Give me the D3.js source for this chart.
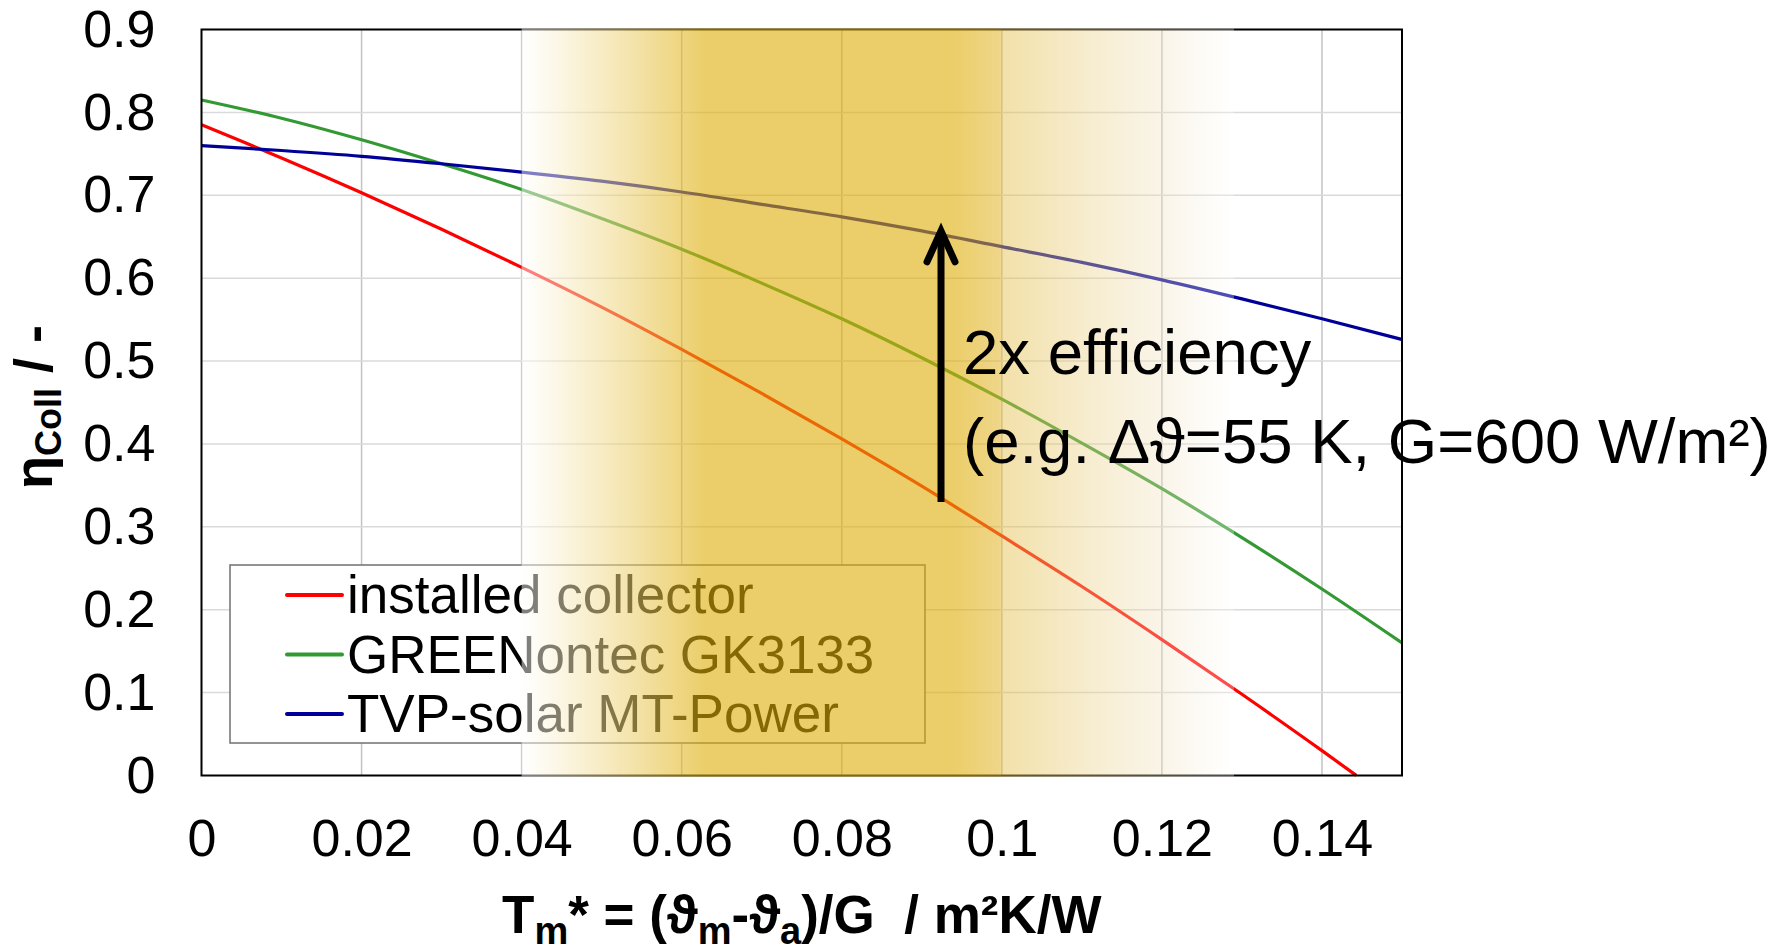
<!DOCTYPE html>
<html>
<head>
<meta charset="utf-8">
<script src="https://cdn.jsdelivr.net/npm/d3@7"></script>
<style>
  body { margin: 0; background: #fff; }
  svg { display: block; font-family: "Liberation Sans", Arial, sans-serif; }
</style>
</head>
<body>
<script>
// collector efficiency curves
const tmStar = [0, 0.01, 0.02, 0.03, 0.04, 0.05, 0.06, 0.07, 0.08, 0.09, 0.10, 0.11, 0.12, 0.13, 0.14, 0.15];
const installedTm = [0, 0.01, 0.02, 0.03, 0.04, 0.05, 0.06, 0.07, 0.08, 0.09, 0.10, 0.11, 0.12, 0.13, 0.14, 0.1443];
const installedEta = [0.785, 0.745, 0.703, 0.659, 0.613, 0.565, 0.514, 0.461, 0.406, 0.349, 0.289, 0.228, 0.164, 0.098, 0.030, 0];
const greenEta = [0.815, 0.793, 0.767, 0.738, 0.707, 0.672, 0.635, 0.594, 0.551, 0.504, 0.454, 0.401, 0.346, 0.287, 0.225, 0.160];
const tvpEta = [0.760, 0.754, 0.747, 0.738, 0.728, 0.717, 0.704, 0.689, 0.674, 0.657, 0.638, 0.619, 0.598, 0.575, 0.551, 0.526];

const seriesNames = ["installed collector", "GREENontec GK3133", "TVP-solar MT-Power"];

const xTicks = [0, 0.02, 0.04, 0.06, 0.08, 0.1, 0.12, 0.14];
const xTickLabels = ["0", "0.02", "0.04", "0.06", "0.08", "0.1", "0.12", "0.14"];
const yTicks = [0, 0.1, 0.2, 0.3, 0.4, 0.5, 0.6, 0.7, 0.8, 0.9];
const yTickLabels = ["0", "0.1", "0.2", "0.3", "0.4", "0.5", "0.6", "0.7", "0.8", "0.9"];

// highlighted operating range and the arrow annotation
const bandRange = [0.04, 0.129];
const arrowTm = 0.0924;
const arrowEta = [0.33, 0.657];
const noteLines = ["2x efficiency", "(e.g. Δϑ=55 K, G=600 W/m²)"];

const width = 1780, height = 946;
const plot = { left: 201.5, right: 1402, top: 29.5, bottom: 775.5 };

const x = d3.scaleLinear().domain([0, 0.15]).range([plot.left, plot.right]);
const y = d3.scaleLinear().domain([0, 0.9]).range([plot.bottom, plot.top]);

const svg = d3.select("body").append("svg")
  .attr("width", width)
  .attr("height", height);

// grid
svg.append("g")
  .selectAll("line")
  .data(xTicks.slice(1))
  .join("line")
  .attr("x1", d => x(d)).attr("x2", d => x(d))
  .attr("y1", plot.top).attr("y2", plot.bottom)
  .attr("stroke", "#c3c3c3")
  .attr("stroke-width", 1.5);

svg.append("g")
  .selectAll("line")
  .data(yTicks.slice(1))
  .join("line")
  .attr("x1", plot.left).attr("x2", plot.right)
  .attr("y1", d => y(d)).attr("y2", d => y(d))
  .attr("stroke", "#dadada")
  .attr("stroke-width", 1.5);

// curves
const series = [
  { name: seriesNames[0], color: "#ff0000", pts: installedTm.map((t, i) => [t, installedEta[i]]) },
  { name: seriesNames[1], color: "#339933", pts: tmStar.map((t, i) => [t, greenEta[i]]) },
  { name: seriesNames[2], color: "#000099", pts: tmStar.map((t, i) => [t, tvpEta[i]]) },
];

const line = d3.line()
  .x(d => x(d[0]))
  .y(d => y(d[1]))
  .curve(d3.curveMonotoneX);

svg.append("g")
  .selectAll("path")
  .data(series)
  .join("path")
  .attr("d", d => line(d.pts))
  .attr("fill", "none")
  .attr("stroke", d => d.color)
  .attr("stroke-width", 3.2);

// axes (labels only, the frame is drawn as a rect)
const xAxis = svg.append("g")
  .attr("transform", `translate(0,${plot.bottom})`)
  .call(d3.axisBottom(x).tickValues(xTicks).tickSize(0).tickPadding(44)
    .tickFormat((d, i) => xTickLabels[i]));
const yAxis = svg.append("g")
  .attr("transform", `translate(${plot.left},0)`)
  .call(d3.axisLeft(y).tickValues(yTicks).tickSize(0).tickPadding(46)
    .tickFormat((d, i) => yTickLabels[i]));

[xAxis, yAxis].forEach(g => {
  g.select(".domain").remove();
  g.selectAll("text")
    .attr("font-family", "Liberation Sans, Arial, sans-serif")
    .attr("font-size", 52)
    .attr("fill", "#000");
});

svg.append("rect")
  .attr("x", plot.left).attr("y", plot.top)
  .attr("width", plot.right - plot.left)
  .attr("height", plot.bottom - plot.top)
  .attr("fill", "none")
  .attr("stroke", "#000")
  .attr("stroke-width", 2);

// legend
const legend = svg.append("g");
legend.append("rect")
  .attr("x", 230).attr("y", 565)
  .attr("width", 695).attr("height", 178)
  .attr("fill", "#fff")
  .attr("stroke", "#707070")
  .attr("stroke-width", 1.5);

const items = legend.selectAll("g.item")
  .data(series)
  .join("g")
  .attr("class", "item")
  .attr("transform", (d, i) => `translate(0,${613 + i * 59.5})`);
items.append("line")
  .attr("x1", 287).attr("x2", 342)
  .attr("y1", -18).attr("y2", -18)
  .attr("stroke", d => d.color)
  .attr("stroke-width", 4)
  .attr("stroke-linecap", "round");
items.append("text")
  .attr("x", 347)
  .attr("font-size", 53)
  .text(d => d.name);

// translucent golden band over everything in the plot
const defs = svg.append("defs");
const x0 = x(bandRange[0]), x1 = x(bandRange[1]);
const off = v => (x(v) - x0) / (x1 - x0);
const grad = defs.append("linearGradient")
  .attr("id", "band")
  .attr("gradientUnits", "userSpaceOnUse")
  .attr("x1", x0).attr("x2", x1)
  .attr("y1", 0).attr("y2", 0);
[
  [0.04, "#ffffff", 0.5],
  [0.063, "#dead05", 0.6],
  [0.094, "#dead05", 0.6],
  [0.0998, "#e1b428", 0.55],
  [0.1, "#e4be46", 0.47],
  [0.12, "#f0e1be", 0.35],
  [0.129, "#ffffff", 0.3],
].forEach(([v, c, o]) => {
  grad.append("stop")
    .attr("offset", off(v))
    .attr("stop-color", c)
    .attr("stop-opacity", o);
});

svg.append("rect")
  .attr("x", x0).attr("y", plot.top - 1)
  .attr("width", x1 - x0)
  .attr("height", plot.bottom - plot.top + 2)
  .attr("fill", "url(#band)");

// arrow
const ax = x(arrowTm);
const tipY = y(arrowEta[1]);
svg.append("line")
  .attr("x1", ax).attr("x2", ax)
  .attr("y1", y(arrowEta[0])).attr("y2", tipY + 6)
  .attr("stroke", "#000")
  .attr("stroke-width", 7);
svg.append("path")
  .attr("d", `M${ax - 14},${tipY + 31} L${ax},${tipY} L${ax + 14},${tipY + 31}`)
  .attr("fill", "none")
  .attr("stroke", "#000")
  .attr("stroke-width", 7)
  .attr("stroke-linecap", "round")
  .attr("stroke-linejoin", "miter");

svg.append("g")
  .selectAll("text")
  .data(noteLines)
  .join("text")
  .attr("x", ax + 22)
  .attr("y", (d, i) => y(0.484) + i * 89)
  .attr("font-size", 63.5)
  .attr("fill", "#000")
  .text(d => d);

// axis titles
const xTitle = svg.append("text")
  .attr("x", (plot.left + plot.right) / 2)
  .attr("y", 933)
  .attr("text-anchor", "middle")
  .attr("font-size", 53)
  .attr("font-weight", "bold")
  .style("white-space", "pre");
[
  ["T", 0], ["m", 1], ["* = (ϑ", 0], ["m", 1], ["-ϑ", 0], ["a", 1], [")/G  / m²K/W", 0]
].forEach(([t, sub], i, arr) => {
  const prevSub = i > 0 ? arr[i - 1][1] : 0;
  xTitle.append("tspan")
    .attr("dy", (sub - prevSub) * 11)
    .attr("font-size", sub ? 38 : 53)
    .text(t);
});

const yTitle = svg.append("text")
  .attr("transform", "translate(52,407) rotate(-90)")
  .attr("text-anchor", "middle")
  .attr("font-size", 54)
  .attr("font-weight", "bold")
  .style("white-space", "pre");
yTitle.append("tspan").text("η");
yTitle.append("tspan").attr("dy", 9).attr("font-size", 36).text("Coll");
yTitle.append("tspan").attr("dy", -9).text(" / -");
</script>
</body>
</html>
